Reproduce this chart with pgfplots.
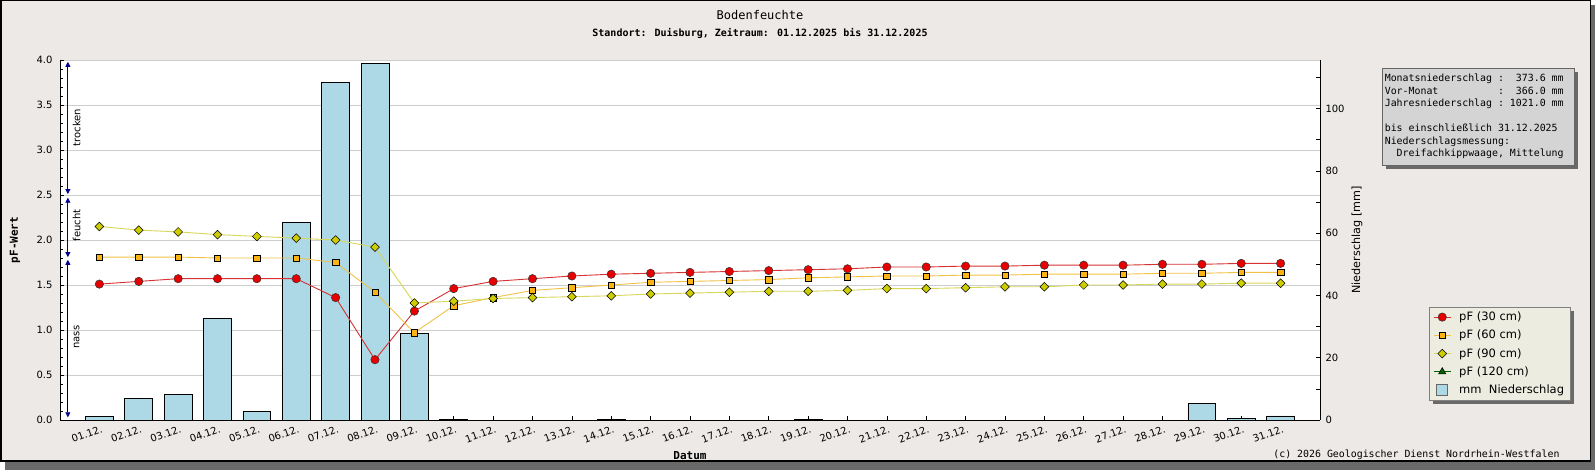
\documentclass[border=0pt]{standalone}
\usepackage{fontspec}
\setmainfont{DejaVu Sans}
\newfontfamily\monof{DejaVu Sans Mono}
\usepackage{pgfplots}
\usepackage{pgfplotstable}
\pgfplotsset{compat=1.18}
\usetikzlibrary{arrows.meta,shadows}
\pgfdeclarelayer{bottom}
\pgfdeclarelayer{shadowlayer}
\pgfsetlayers{bottom,shadowlayer,main}
\definecolor{bgc}{RGB}{236,233,231}
\definecolor{barc}{RGB}{173,216,230}
\definecolor{c30}{RGB}{230,0,0}
\definecolor{l30}{RGB}{215,50,50}
\definecolor{c60}{RGB}{252,180,20}
\definecolor{l60}{RGB}{240,195,70}
\definecolor{c90}{RGB}{205,205,0}
\definecolor{l90}{RGB}{215,215,90}
\definecolor{c120}{RGB}{0,100,0}
\definecolor{gridc}{RGB}{205,205,205}
\definecolor{navyc}{RGB}{0,0,140}
\definecolor{infoc}{RGB}{212,212,212}
\definecolor{legc}{RGB}{236,236,224}
\definecolor{shadc}{RGB}{105,105,105}
\newcommand\msp{\hphantom{0}}

\pgfplotstableread{
x y
0 1.2
1 7.0
2 8.2
3 32.6
4 2.8
5 63.5
6 108.5
7 114.5
8 27.8
9 0.1
13 0.1
18 0.1
28 5.4
29 0.5
30 1.3
}\rain

\pgfplotstableread{
x p30 p60 p90
0 1.51 1.81 2.15
1 1.54 1.81 2.11
2 1.57 1.81 2.09
3 1.57 1.80 2.06
4 1.57 1.80 2.04
5 1.57 1.80 2.02
6 1.36 1.75 2.00
7 0.67 1.42 1.92
8 1.21 0.97 1.30
9 1.46 1.27 1.32
10 1.54 1.36 1.35
11 1.57 1.44 1.36
12 1.60 1.47 1.37
13 1.62 1.50 1.38
14 1.63 1.53 1.40
15 1.64 1.54 1.41
16 1.65 1.55 1.42
17 1.66 1.56 1.43
18 1.67 1.58 1.43
19 1.68 1.59 1.44
20 1.70 1.60 1.46
21 1.70 1.60 1.46
22 1.71 1.61 1.47
23 1.71 1.61 1.48
24 1.72 1.62 1.48
25 1.72 1.62 1.50
26 1.72 1.62 1.50
27 1.73 1.63 1.51
28 1.73 1.63 1.51
29 1.74 1.64 1.52
30 1.74 1.64 1.52
}\pf

\begin{document}
\begin{tikzpicture}
\begin{pgfonlayer}{bottom}
\fill[shadc] (5pt,0pt) rectangle (1595pt,465pt);
\fill[bgc, draw=black, line width=1.5pt] (0.75pt,9pt) rectangle (1590.5pt,469.25pt);
\end{pgfonlayer}

% axis 1: pF scale, grid, x axis
\begin{axis}[
  at={(60pt,50pt)}, anchor=south west,
  scale only axis, width=1260pt, height=360pt,
  xmin=-1, xmax=31, ymin=0, ymax=4,
  axis x line*=bottom, axis y line*=left,
  axis line style={black, line width=0.8pt},
  axis background/.style={fill=white},
  tick align=inside,
  major tick length=4pt, minor tick length=3pt,
  tick style={black, line width=0.6pt},
  ytick={0,0.5,1,1.5,2,2.5,3,3.5,4}, minor y tick num=4,
  ymajorgrids, major grid style={gridc, line width=0.8pt},
  xtick={0,...,30},
  xticklabels={01.12.,02.12.,03.12.,04.12.,05.12.,06.12.,07.12.,08.12.,09.12.,10.12.,11.12.,12.12.,13.12.,14.12.,15.12.,16.12.,17.12.,18.12.,19.12.,20.12.,21.12.,22.12.,23.12.,24.12.,25.12.,26.12.,27.12.,28.12.,29.12.,30.12.,31.12.},
  xticklabel style={rotate=20, anchor=east, yshift=-9pt, xshift=0pt, inner sep=0.5pt, font=\fontsize{10}{11}\selectfont},
  y tick label style={/pgf/number format/fixed, /pgf/number format/fixed zerofill, /pgf/number format/precision=1, font=\fontsize{10}{11}\selectfont, xshift=-4pt},
  /pgf/number format/assume math mode=true,
  xlabel={Datum},
  xlabel style={at={(axis description cs:0.5,-0.1)}, anchor=center, font=\monof\bfseries\fontsize{11}{13}\selectfont},
  ylabel={pF-Wert},
  ylabel style={at={(axis description cs:-0.0357,0.5)}, anchor=center, font=\monof\bfseries\fontsize{11}{13}\selectfont},
]
\draw[navyc, line width=0.8pt, {Triangle[width=5pt,length=5pt]}-{Triangle[width=5pt,length=5pt]}] (axis cs:-0.8,3.98) -- (axis cs:-0.8,2.51);
\draw[navyc, line width=0.8pt, {Triangle[width=5pt,length=5pt]}-{Triangle[width=5pt,length=5pt]}] (axis cs:-0.8,2.47) -- (axis cs:-0.8,1.81);
\draw[black, line width=0.8pt, {Triangle[width=5pt,length=5pt,color=navyc]}-{Triangle[width=5pt,length=5pt,color=navyc]}] (axis cs:-0.8,1.78) -- (axis cs:-0.8,0.03);
\node[rotate=90, font=\fontsize{10}{11}\selectfont] at (axis cs:-0.58,3.25) {trocken};
\node[rotate=90, font=\fontsize{10}{11}\selectfont] at (axis cs:-0.58,2.16) {feucht};
\node[rotate=90, font=\fontsize{10}{11}\selectfont] at (axis cs:-0.58,0.92) {nass};
\end{axis}

% axis 2: precipitation bars, right axis
\begin{axis}[
  at={(60pt,50pt)}, anchor=south west,
  scale only axis, width=1260pt, height=360pt,
  xmin=-1, xmax=31, ymin=0, ymax=115.6,
  axis x line=none, axis y line*=right,
  axis line style={black, line width=0.8pt},
  tick align=inside,
  major tick length=4pt, minor tick length=4pt,
  tick style={black, line width=0.6pt},
  ytick={0,20,40,60,80,100}, minor ytick={10,30,50,70,90,110},
  y tick label style={font=\fontsize{10}{11}\selectfont, xshift=2pt},
  /pgf/number format/assume math mode=true,
  ylabel={Niederschlag [mm]},
  ylabel style={at={(axis description cs:1.0294,0.5)}, anchor=center, font=\fontsize{11.2}{13}\selectfont},
]
\addplot[ybar, bar width=0.71, bar shift=0pt, fill=barc, draw=black, line width=0.7pt] table[x=x,y=y]{\rain};
\end{axis}

% axis 3: pF lines
\begin{axis}[
  at={(60pt,50pt)}, anchor=south west,
  scale only axis, width=1260pt, height=360pt,
  xmin=-1, xmax=31, ymin=0, ymax=4,
  axis lines=none,
  legend cell align=left,
  legend style={name=leg, at={(axis description cs:1.0865,0.3147)}, anchor=north west,
    fill=legc, draw=black!50, line width=0.6pt, font=\fontsize{11.5}{13}\selectfont,
    row sep=4pt, inner xsep=4pt, inner ysep=3pt},
]
\addplot[l30, line width=0.9pt, mark=*, mark size=4.2pt, mark options={fill=c30, draw=black!80, line width=0.5pt}] table[x=x,y=p30]{\pf};
\addplot[l60, line width=0.9pt, mark=square*, mark size=3.2pt, mark options={fill=c60, draw=black, line width=0.5pt}] table[x=x,y=p60]{\pf};
\addplot[l90, line width=0.9pt, mark=square*, mark size=3.1pt, mark options={rotate=45, fill=c90, draw=black, line width=0.5pt}] table[x=x,y=p90]{\pf};
\addlegendimage{c120, line width=0.9pt, mark=triangle*, mark size=4.2pt, mark options={fill=c120, draw=black, line width=0.5pt}}
\addlegendimage{legend image code/.code={\draw[fill=barc, draw=black!60, line width=0.6pt] (2.5pt,-5.5pt) rectangle (14pt,5.5pt);}}
\legend{\hspace{6pt}pF (30 cm), \hspace{6pt}pF (60 cm), \hspace{6pt}pF (90 cm), \hspace{6pt}pF (120 cm), \hspace{6pt}mm~~Niederschlag}
\end{axis}
\begin{pgfonlayer}{shadowlayer}
\fill[shadc] ([shift={(4pt,-4pt)}]leg.south west) rectangle ([shift={(4pt,-4pt)}]leg.north east);
\end{pgfonlayer}

% info box
\node[anchor=north west, draw=black!60, line width=0.6pt, fill=infoc, inner xsep=2.5pt, inner ysep=6pt, text width=187pt, align=left,
  font=\monof\fontsize{9.9}{12.5}\selectfont,
  drop shadow={shadow xshift=4pt, shadow yshift=-4pt, fill=shadc, opacity=1}] at (1382pt,402pt)
  {Monatsniederschlag\msp:\msp\msp373.6\msp mm\\
   Vor-Monat\msp\msp\msp\msp\msp\msp\msp\msp\msp\msp:\msp\msp366.0\msp mm\\
   Jahresniederschlag\msp:\msp1021.0\msp mm\\
   \strut\\
   bis\msp einschließlich\msp 31.12.2025\\
   Niederschlagsmessung:\\
   \msp\msp Dreifachkippwaage,\msp Mittelung};

% titles
\node[font=\monof\fontsize{12}{14}\selectfont] at (760pt,455pt) {Bodenfeuchte};
\node[font=\monof\bfseries\fontsize{10}{12}\selectfont] at (760pt,437pt) {Standort: Duisburg, Zeitraum: 01.12.2025 bis 31.12.2025};
\node[anchor=east, font=\monof\fontsize{9.9}{12}\selectfont] at (1563pt,15pt) {(c) 2026 Geologischer Dienst Nordrhein-Westfalen};
\pgfresetboundingbox
\path[use as bounding box] (0pt,0pt) rectangle (1595pt,470pt);
\end{tikzpicture}
\end{document}
